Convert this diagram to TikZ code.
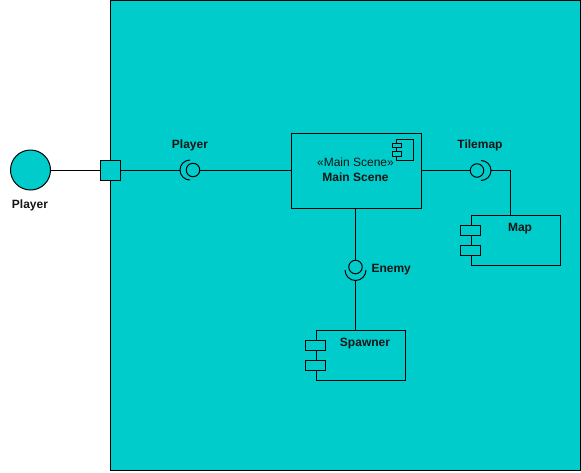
\documentclass[tikz,border=0pt]{standalone}
\usepackage{fontspec}
\setmainfont{Liberation Sans}
\definecolor{teal1}{RGB}{0,204,204}
\definecolor{ink}{RGB}{20,20,20}
\begin{document}
\begin{tikzpicture}[x=1pt,y=-1pt,line width=1pt,
  every node/.style={font=\fontsize{12}{14}\selectfont, text=ink, inner sep=0pt},
  lbl/.style={font=\fontsize{12}{14}\selectfont\bfseries},
  comp/.style={draw, fill=teal1, rectangle, anchor=north west},
  tab/.style={draw, fill=teal1, rectangle, minimum width=20.4pt, minimum height=10pt},
  ball/.style={draw, fill=teal1, circle, minimum size=13.5pt}]
\useasboundingbox (0,0) rectangle (581,472);
% system boundary
\draw[fill=teal1] (110.5,0.5) rectangle (580,470);

% external actor and its port
\node[draw, fill=teal1, circle, minimum size=40pt] (actor) at (30.5,170) {};
\node[lbl] (actorlbl) at (30,205) {Player};
\node[draw, fill=teal1, rectangle, minimum size=20pt] (port) at (110.5,170) {};

% main scene component
\node[comp, minimum width=130pt, minimum height=75pt] (ms) at (290.5,133) {};
\node (msst) at (355.5,162) {«Main Scene»};
\node[lbl] (msname) at (355.5,177) {Main Scene};
\draw[fill=teal1] (396.5,139.5) rectangle (413.5,160);
\draw[fill=teal1] (392.7,143.3) rectangle (401.3,147.5);
\draw[fill=teal1] (392.7,151.7) rectangle (401.3,156);

% map component
\node[comp, minimum width=89.6pt, minimum height=50pt] (map) at (470.7,215) {};
\node[tab] (maptab1) at (470.7,230) {};
\node[tab] (maptab2) at (470.7,250) {};
\node[lbl] (maplbl) at (520,229) {Map};

% spawner component
\node[comp, minimum width=89.6pt, minimum height=50pt] (spawn) at (315.7,330) {};
\node[tab] (sptab1) at (315.7,345) {};
\node[tab] (sptab2) at (315.7,365) {};
\node[lbl] (splbl) at (365,344) {Spawner};

% Player interface (socket opens to the right)
\node[ball] (pball) at (193,170) {};
\coordinate (psock) at (180,170);
\draw (190,160) arc[start angle=90, end angle=270, radius=10pt];
\node[lbl] (plbl) at (190,145) {Player};

% Tilemap interface (socket opens to the left)
\node[ball] (tball) at (477,170.5) {};
\coordinate (tsock) at (491,170.5);
\draw (481,180.5) arc[start angle=270, end angle=450, radius=10pt];
\node[lbl] (tlbl) at (480,145) {Tilemap};

% Enemy interface (socket opens upwards)
\node[ball] (eball) at (355.5,267) {};
\coordinate (esock) at (355.5,280.5);
\draw (345,270) arc[start angle=180, end angle=360, radius=10.5pt];
\node[lbl, anchor=west] (elbl) at (371,270) {Enemy};

% connectors
\draw (actor) -- (port);
\draw (port) -- (psock);
\draw (pball) -- (ms.west |- pball);
\draw (ms.east |- tball) -- (tball);
\draw (tsock) -| ([xshift=39.5pt]map.north west);
\draw (ms.south -| eball) -- (eball);
\draw (esock) -- ([xshift=39.8pt]spawn.north west);
\end{tikzpicture}
\end{document}
